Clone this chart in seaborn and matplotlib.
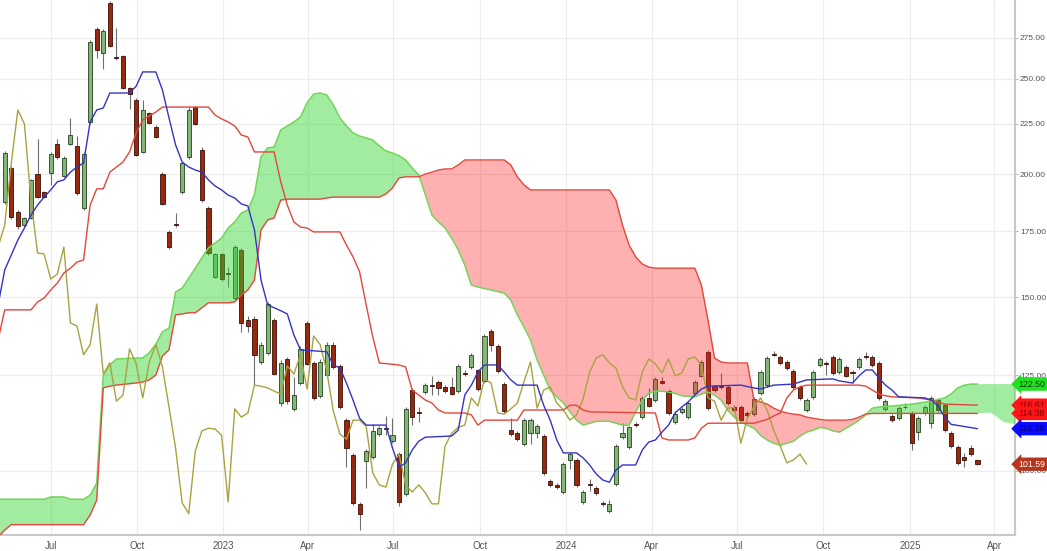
import matplotlib
matplotlib.use("Agg")
import matplotlib.pyplot as plt
import matplotlib.dates as mdates
import matplotlib.ticker as mticker
import numpy as np
import pandas as pd
import seaborn as sns

# weekly candles, week 0 = first candle
start = pd.Timestamp("2022-05-13")

opens = [187.4, 203.0, 183.1, 177.6, 180.6, 200.1, 191.9, 200.6, 214.7, 199.1,
         214.7, 213.7, 184.8, 226.0, 280.8, 265.7, 298.4, 263.0, 263.5, 244.6,
         237.9, 210.7, 230.8, 223.4, 200.1, 174.8, 178.0, 191.9, 208.3, 234.0,
         211.7, 184.8, 157.3, 166.0, 158.8, 149.8, 167.6, 142.3, 142.7, 129.0,
         131.8, 142.3, 117.2, 129.9, 115.6, 122.8, 141.3, 128.7, 119.2, 125.1,
         134.3, 127.8, 112.6, 103.8, 92.6, 102.4, 103.3, 109.0, 110.5, 107.2,
         104.0, 94.8, 120.8, 114.8, 120.2, 122.2, 123.1, 121.7, 121.7, 120.5,
         125.7, 127.5, 126.6, 123.4, 138.6, 134.0, 122.5, 110.0, 109.2, 106.5,
         109.2, 109.2, 108.5, 97.7, 96.8, 95.2, 102.6, 102.6, 93.0, 97.0,
         96.1, 92.8, 91.1, 97.0, 108.2, 105.8, 111.5, 113.4, 118.6, 118.0,
         123.4, 120.5, 112.1, 114.8, 113.4, 119.9, 124.9, 132.1, 121.9, 121.9,
         121.7, 116.1, 116.1, 114.5, 114.2, 119.9, 122.2, 131.4, 130.5, 129.0,
         126.3, 121.7, 115.3, 118.9, 128.1, 128.7, 130.5, 126.0, 127.5, 126.0,
         127.5, 130.8, 130.5, 128.7, 115.6, 113.7, 113.1, 116.1, 114.5, 109.5,
         114.5, 111.8, 118.0, 116.7, 109.2, 105.8, 103.3, 105.5, 102.6]
highs = [211.0, 204.0, 184.0, 181.0, 198.0, 217.2, 192.5, 210.5, 217.2, 208.5,
         228.1, 218.7, 210.5, 273.5, 282.0, 280.5, 299.5, 281.5, 264.5, 245.2,
         239.0, 237.9, 231.5, 224.4, 201.0, 175.6, 182.7, 206.0, 234.0, 234.8,
         213.2, 185.5, 166.5, 166.5, 161.0, 169.5, 168.5, 143.6, 143.5, 135.0,
         148.5, 143.0, 129.5, 130.5, 124.6, 133.8, 142.0, 129.3, 129.8, 135.0,
         135.0, 128.3, 113.2, 104.4, 93.0, 105.3, 111.6, 111.0, 113.7, 113.1,
         104.6, 116.2, 121.3, 116.1, 122.8, 124.9, 123.6, 122.2, 124.6, 128.3,
         126.6, 131.7, 127.0, 137.7, 139.2, 134.5, 123.0, 113.1, 109.7, 113.1,
         113.1, 111.5, 109.0, 98.2, 97.2, 102.1, 104.5, 103.1, 95.7, 98.1,
         96.6, 93.2, 93.4, 106.5, 111.8, 111.2, 112.0, 119.1, 121.4, 124.5,
         124.6, 121.0, 115.1, 116.1, 117.7, 123.6, 129.5, 132.6, 122.3, 125.7,
         122.2, 116.6, 116.6, 115.0, 118.8, 126.5, 130.7, 132.4, 131.0, 129.5,
         126.8, 122.2, 118.5, 126.5, 130.4, 129.2, 131.0, 130.4, 128.0, 126.5,
         130.4, 132.1, 131.0, 129.2, 118.2, 114.2, 116.3, 117.2, 115.0, 113.6,
         116.6, 119.1, 118.5, 117.2, 109.7, 106.3, 104.3, 106.2, 102.8]
lows = [186.5, 180.0, 176.0, 177.0, 180.0, 189.0, 189.0, 195.1, 207.5, 198.5,
        214.0, 190.5, 184.0, 225.0, 262.4, 255.8, 269.0, 261.5, 244.0, 233.0,
        208.5, 210.0, 225.0, 217.5, 186.0, 168.0, 177.0, 191.0, 207.5, 224.5,
        187.5, 165.8, 156.8, 156.0, 153.7, 149.0, 138.3, 138.3, 122.2, 128.5,
        131.0, 125.0, 116.5, 117.0, 115.0, 122.2, 128.0, 118.0, 118.7, 124.6,
        127.0, 115.6, 100.9, 92.3, 87.1, 96.1, 102.8, 108.5, 108.7, 106.7,
        92.2, 94.3, 111.3, 112.1, 119.8, 119.4, 119.4, 120.0, 119.3, 120.0,
        124.9, 127.0, 120.6, 122.9, 132.4, 125.8, 114.5, 108.5, 107.2, 106.0,
        106.5, 108.0, 99.0, 96.3, 95.9, 94.7, 100.4, 96.3, 92.5, 95.4,
        94.5, 92.2, 90.6, 96.5, 107.7, 105.3, 110.8, 112.9, 116.0, 117.5,
        122.4, 114.0, 111.6, 114.3, 112.9, 119.4, 124.4, 115.3, 120.3, 121.2,
        116.7, 114.8, 112.1, 113.5, 113.7, 119.4, 121.7, 130.8, 128.2, 126.7,
        121.2, 118.1, 114.8, 118.4, 127.6, 125.1, 125.2, 125.5, 124.4, 122.8,
        127.0, 130.0, 127.6, 118.1, 115.1, 112.1, 112.6, 115.5, 105.0, 107.5,
        114.0, 110.5, 114.8, 109.5, 105.5, 101.4, 100.9, 103.5, 101.3]
closes = [210.2, 181.0, 177.3, 180.6, 197.4, 189.8, 189.8, 209.7, 208.3, 207.8,
          219.2, 191.4, 209.7, 272.4, 267.4, 279.5, 269.9, 262.4, 244.6, 241.2,
          209.2, 232.4, 225.5, 218.2, 186.6, 168.7, 177.6, 205.3, 232.4, 225.0,
          188.3, 166.4, 166.0, 156.6, 158.4, 168.7, 141.3, 140.3, 131.2, 134.3,
          147.7, 125.4, 128.7, 117.7, 119.4, 133.0, 128.4, 118.6, 129.0, 134.3,
          127.5, 116.1, 105.5, 92.8, 90.5, 104.8, 109.8, 110.5, 110.3, 108.7,
          93.0, 115.6, 113.4, 114.5, 122.2, 121.9, 121.4, 120.5, 119.7, 127.8,
          125.4, 131.2, 121.1, 137.1, 134.3, 126.3, 115.0, 109.0, 107.7, 112.6,
          112.6, 111.0, 99.5, 96.8, 96.3, 101.6, 104.0, 96.8, 95.2, 96.8,
          95.0, 92.6, 92.6, 106.0, 109.2, 110.7, 111.3, 118.6, 116.4, 124.0,
          122.8, 114.5, 114.2, 115.6, 117.2, 123.1, 129.0, 115.8, 120.8, 121.7,
          117.2, 115.3, 112.6, 114.0, 118.3, 126.0, 130.2, 131.2, 128.7, 127.2,
          121.7, 118.6, 118.0, 126.0, 129.9, 128.4, 125.7, 129.9, 124.9, 125.7,
          129.9, 130.5, 128.1, 118.6, 117.7, 112.6, 115.8, 116.0, 106.7, 113.1,
          116.1, 118.6, 115.3, 110.0, 106.0, 101.9, 102.6, 104.0, 101.59]

# tenkan-sen (blue), vertices by week number
tenkan_wk = [-1, 0, 1, 2, 3, 4, 5, 6, 7, 8,
             9, 10, 11, 12, 13, 14, 15, 16, 19, 20,
             21, 23, 24, 25, 26, 27, 28, 29, 30, 31,
             32, 33, 34, 35, 36, 37, 38, 39, 40, 41,
             42, 43, 44, 45, 49, 50, 51, 52, 53, 54,
             55, 58, 59, 60, 61, 62, 63, 64, 68, 69,
             70, 71, 72, 73, 75, 76, 77, 78, 81, 82,
             83, 84, 85, 87, 88, 89, 90, 91, 92, 93,
             94, 96, 97, 98, 99, 100, 101, 102, 103, 104,
             105, 106, 107, 112, 114, 115, 117, 120, 122, 126,
             127, 129, 130, 131, 132, 133, 134, 135, 136, 140,
             141, 142, 143, 144, 148]
tenkan = [147.4, 159.9, 165.6, 171.5, 176.4, 181.8, 186.1, 189.6, 192.8, 196.5,
          197.4, 201.0, 203.4, 205.3, 226.0, 232.4, 233.5, 241.8, 241.8, 245.7,
          254.0, 254.0, 243.5, 228.1, 214.2, 205.8, 203.4, 202.0, 201.0, 197.4,
          194.6, 192.8, 190.5, 189.2, 186.6, 185.7, 175.6, 156.2, 147.4, 146.4,
          145.4, 144.3, 137.4, 132.7, 132.1, 128.1, 127.2, 122.8, 118.0, 113.1,
          111.3, 111.3, 105.5, 100.9, 101.9, 105.0, 107.2, 108.2, 108.5, 110.0,
          119.4, 122.2, 126.0, 128.1, 128.1, 126.0, 123.7, 122.2, 122.2, 116.6,
          112.6, 107.5, 104.3, 104.3, 103.1, 101.4, 99.3, 97.9, 97.4, 100.2,
          101.4, 101.4, 105.0, 107.0, 107.5, 109.5, 111.3, 114.5, 116.1, 117.5,
          119.4, 121.1, 121.9, 122.2, 121.4, 121.1, 122.2, 122.5, 123.7, 124.0,
          123.4, 122.8, 124.9, 126.6, 126.6, 124.3, 122.2, 120.8, 118.9, 118.6,
          118.0, 116.4, 113.4, 111.5, 110.38]

# kijun-sen (red)
kijun_wk = [-1, 0, 4, 5, 6, 7, 8, 9, 10, 11,
            12, 13, 14, 15, 16, 17, 18, 19, 20, 21,
            22, 23, 24, 31, 32, 33, 34, 35, 36, 37,
            38, 41, 42, 43, 44, 45, 46, 47, 51, 52,
            53, 54, 55, 56, 57, 60, 61, 62, 63, 64,
            65, 66, 67, 70, 71, 72, 73, 78, 79, 85,
            86, 87, 88, 89, 99, 100, 101, 104, 105, 106,
            107, 114, 115, 116, 117, 118, 119, 120, 121, 122,
            130, 131, 132, 133, 134, 135, 139, 141, 142, 143,
            148]
kijun = [135.8, 145.7, 145.7, 148.4, 149.8, 152.6, 155.1, 158.8, 160.6, 162.9,
         163.7, 186.1, 193.3, 193.3, 201.0, 203.4, 205.8, 210.7, 220.3, 227.1,
         229.2, 231.3, 234.0, 234.0, 229.7, 227.6, 226.0, 223.9, 219.2, 218.2,
         210.7, 210.7, 196.5, 186.1, 178.9, 176.8, 176.4, 174.8, 174.8, 169.5,
         164.9, 159.2, 147.4, 136.8, 128.7, 128.1, 127.5, 120.8, 119.4, 118.0,
         117.2, 115.3, 114.5, 114.5, 114.0, 111.3, 112.6, 112.6, 115.3, 115.3,
         116.6, 116.6, 115.3, 114.8, 114.5, 108.0, 107.5, 107.5, 108.0, 110.5,
         111.8, 111.8, 112.3, 112.8, 113.7, 114.5, 118.6, 120.8, 121.7, 122.2,
         122.2, 121.9, 120.8, 119.7, 119.2, 118.9, 118.6, 118.0, 117.5, 116.9,
         116.61]

# senkou span A / B (already shifted forward), shared week numbers
cloud_wk = [-1, 0, 1, 6, 7, 9, 10, 12, 13, 14,
            15, 16, 17, 20, 21, 22, 23, 24, 25, 26,
            27, 28, 29, 30, 31, 32, 33, 34, 35, 36,
            37, 38, 39, 40, 41, 42, 43, 44, 45, 46,
            47, 48, 49, 50, 51, 52, 53, 54, 55, 56,
            57, 58, 59, 60, 61, 62, 63, 64, 65, 66,
            67, 68, 69, 70, 71, 72, 74, 76, 77, 78,
            79, 80, 81, 82, 83, 84, 85, 86, 87, 88,
            90, 92, 93, 94, 95, 96, 97, 98, 99, 100,
            102, 103, 105, 106, 107, 108, 109, 110, 111, 112,
            113, 114, 115, 116, 117, 118, 119, 120, 121, 122,
            123, 124, 125, 126, 127, 128, 129, 130, 131, 132,
            133, 135, 138, 141, 143, 144, 145, 146, 147, 148,
            150, 151, 152, 154]
span_a = [93.6, 93.6, 93.6, 93.6, 94.1, 94.1, 93.6, 93.6, 94.5, 97.2,
          125.1, 128.1, 129.9, 130.2, 130.2, 131.8, 134.5, 138.4, 139.6, 151.9,
          153.3, 156.9, 160.6, 164.5, 168.4, 170.3, 172.3, 176.4, 178.9, 182.7,
          184.0, 190.7, 208.3, 212.7, 213.2, 221.8, 223.9, 226.0, 228.7, 236.3,
          241.2, 241.8, 240.7, 235.2, 228.1, 223.9, 220.3, 218.7, 217.7, 216.7,
          213.7, 211.2, 210.2, 208.8, 206.8, 203.0, 199.7, 190.7, 181.8, 178.9,
          176.4, 172.3, 167.6, 161.8, 154.4, 153.7, 152.6, 151.5, 149.1, 144.0,
          140.0, 135.8, 129.6, 125.1, 120.8, 118.9, 117.2, 114.8, 112.6, 111.3,
          112.3, 112.3, 111.8, 111.3, 111.3, 114.8, 118.0, 119.9, 120.5, 120.5,
          119.9, 119.2, 118.9, 119.7, 120.2, 119.4, 118.0, 115.3, 113.4, 112.1,
          111.3, 110.5, 108.7, 107.5, 106.7, 106.2, 106.7, 107.2, 108.5, 109.5,
          110.0, 110.7, 110.5, 109.8, 109.5, 110.5, 111.5, 112.6, 114.0, 115.8,
          116.1, 116.4, 116.9, 117.7, 118.6, 119.7, 121.4, 122.2, 122.5, 122.5,
          122.5, 122.5, 122.5, 122.5]
span_b = [85.7, 87.1, 88.2, 88.2, 88.2, 88.2, 88.2, 88.2, 90.2, 93.4,
          121.4, 121.9, 122.2, 122.8, 123.1, 123.7, 125.1, 130.8, 132.7, 144.0,
          144.3, 144.7, 144.7, 146.4, 148.1, 148.1, 148.1, 148.1, 148.4, 150.8,
          152.6, 156.2, 175.6, 179.7, 180.6, 188.3, 188.7, 188.7, 188.7, 188.7,
          188.7, 188.7, 189.2, 189.6, 189.6, 189.6, 189.6, 189.6, 189.6, 189.6,
          189.6, 191.0, 193.7, 198.3, 198.8, 198.8, 198.8, 200.1, 201.0, 202.0,
          202.5, 202.5, 204.4, 206.8, 206.8, 206.8, 206.8, 206.8, 204.4, 198.8,
          195.1, 192.8, 192.8, 192.8, 192.8, 192.8, 192.8, 192.8, 192.8, 192.8,
          192.8, 192.8, 188.3, 177.6, 169.5, 164.9, 162.2, 161.0, 160.6, 160.6,
          160.6, 160.6, 160.6, 154.4, 142.3, 130.2, 129.0, 128.7, 128.7, 128.7,
          128.7, 118.0, 117.5, 116.9, 115.8, 115.0, 114.5, 114.2, 114.0, 113.4,
          113.1, 112.8, 112.6, 112.6, 112.6, 112.6, 112.8, 113.4, 114.2, 114.38,
          114.38, 114.38, 114.38, 114.38, 114.38, 114.38, 114.38, 114.38, 114.38, 114.38,
          114.6, 113.4, 112.1, 111.5]

y_ticks = [100, 125, 150, 175, 200, 225, 250, 275]
last_tags = [(122.50, "#20e020", "#0d3d0d"),
             (116.61, "#ff1515", "#7a0000"),
             (114.38, "#ff1515", "#7a0000"),
             (110.38, "#0a0aff", "#000080"),
             (101.59, "#b5361c", "#ffffff")]


def weeks_to_dates(wk):
    return start + pd.to_timedelta(np.array(wk) * 7, unit="D")


sns.set_theme(style="whitegrid")
plt.rcParams["font.family"] = ["Liberation Sans", "DejaVu Sans"]

fig = plt.figure(figsize=(10.47, 5.51), dpi=100)
ax = fig.add_axes([0, 16 / 551, 1015 / 1047, 535 / 551])
ax.set_facecolor("white")

dates = weeks_to_dates(range(len(closes)))
o = np.array(opens)
c = np.array(closes)
up = c >= o

# candles
ax.vlines(dates, lows, highs, color="#6e6e6e", lw=0.8, zorder=2)
body_w = pd.Timedelta(days=4.4)
ax.bar(dates[up], (c - o)[up], bottom=o[up], width=body_w, color="#84b677",
       edgecolor="#24401f", lw=0.6, zorder=2.2)
ax.bar(dates[~up], (o - c)[~up], bottom=c[~up], width=body_w, color="#98290f",
       edgecolor="#3a0e04", lw=0.6, zorder=2.2)

# cloud
cd = mdates.date2num(weeks_to_dates(cloud_wk))
a = np.array(span_a)
b = np.array(span_b)
ax.fill_between(cd, a, b, where=a >= b, interpolate=True, color="#2fd62f",
                alpha=0.45, lw=0, zorder=3)
ax.fill_between(cd, a, b, where=a < b, interpolate=True, color="#ff2020",
                alpha=0.35, lw=0, zorder=3)
edge = np.array(cloud_wk) <= len(closes) - 1
ax.plot(cd[edge], a[edge], color="#76d35a", lw=1.1, zorder=4)
ax.plot(cd[edge], b[edge], color="#e2473c", lw=1.0, zorder=4)

# lines
chikou_dates = dates - pd.Timedelta(weeks=26)
sns.lineplot(x=chikou_dates, y=closes, ax=ax, color="#a9a23f", lw=1.0, zorder=4)
sns.lineplot(x=weeks_to_dates(kijun_wk), y=kijun, ax=ax, color="#e2473c", lw=1.0, zorder=4.5)
sns.lineplot(x=weeks_to_dates(tenkan_wk), y=tenkan, ax=ax, color="#3434c4", lw=1.0, zorder=4.6)

# axes
ax.set_yscale("log")
ax.set_ylim(86.1, 300.5)
ax.set_xlim(pd.Timestamp("2022-05-08"), pd.Timestamp("2025-04-23"))
ax.yaxis.set_major_locator(mticker.FixedLocator(y_ticks))
ax.yaxis.set_major_formatter(mticker.FormatStrFormatter("%.2f"))
ax.yaxis.set_minor_locator(mticker.NullLocator())
ax.yaxis.tick_right()
ax.xaxis.set_major_locator(mdates.MonthLocator(bymonth=[1, 4, 7, 10]))
ax.xaxis.set_major_formatter(mticker.FuncFormatter(
    lambda v, p: str(mdates.num2date(v).year) if mdates.num2date(v).month == 1
    else mdates.num2date(v).strftime("%b")))
ax.tick_params(axis="x", which="major", length=3, width=0.8, color="#bdbdbd",
               labelsize=7, labelcolor="#555555", pad=1.5)
ax.tick_params(axis="y", which="major", length=2.5, width=0.8, color="#bdbdbd",
               labelsize=6, labelcolor="#555555", pad=1)
ax.grid(True, color="#ececec", lw=0.8)
ax.set_xlabel("")
ax.set_ylabel("")
for side in ["left", "top"]:
    ax.spines[side].set_visible(False)
for side in ["right", "bottom"]:
    ax.spines[side].set_visible(True)
    ax.spines[side].set_color("#c8c8c8")
    ax.spines[side].set_linewidth(1.5)

# last value tags
trans = ax.get_yaxis_transform()
for val, bg, fg in last_tags:
    ax.text(1.0035, val, f"{val:.2f}", transform=trans, ha="left", va="center",
            fontsize=6.3, color=fg, zorder=10, clip_on=False,
            bbox=dict(boxstyle="larrow,pad=0.25", fc=bg, ec="none"))

fig.savefig("out.png", dpi=100, facecolor="white")
